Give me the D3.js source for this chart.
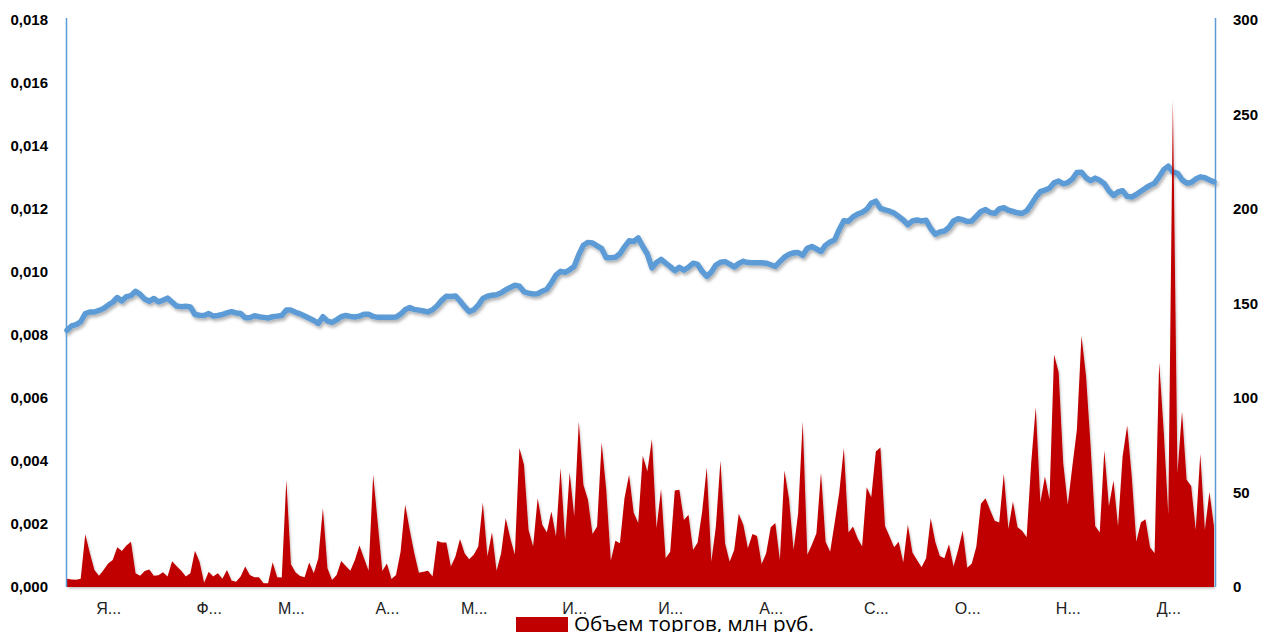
<!DOCTYPE html>
<html><head><meta charset="utf-8">
<script src="https://cdn.jsdelivr.net/npm/d3@7"></script>
<style>
html,body{margin:0;padding:0;background:#fff;overflow:hidden;}
svg{display:block;}
</style></head>
<body>
<svg id="chart" width="1261" height="632"></svg>
<script>
// ---- data ----
const months = ["Я...", "Ф...", "М...", "А...", "М...", "И...", "И...", "А...", "С...", "О...", "Н...", "Д..."];
const monthLabelIdx = [9, 31, 49, 70, 89, 111, 132, 154, 177, 197, 219, 241];
const leftTicks = [0, 0.002, 0.004, 0.006, 0.008, 0.010, 0.012, 0.014, 0.016, 0.018];
const rightTicks = [0, 50, 100, 150, 200, 250, 300];
const legendLabel = "Объем торгов, млн руб.";

const volume = [
4.4, 4.0, 3.9, 4.4, 27.9, 18, 9, 6, 9, 12.5,
14.3, 21, 19, 22, 24, 7.3, 6, 8.5, 9.2, 6,
6.2, 7.8, 5.5, 13.6, 11, 8.6, 5.5, 7.3, 19.2, 13.4,
2.3, 8.1, 5.5, 7.3, 4.4, 9, 3.4, 2.8, 5.5, 10.8,
6.4, 5.1, 5.1, 2, 2, 13.1, 5.1, 5, 56.7, 12,
7.8, 5.8, 5.1, 12.9, 7.3, 15.2, 41.7, 9.9, 3.7, 6.4,
13.8, 11.1, 8.6,
14.3, 21.9, 15.2, 8.6, 59.4, 33.8, 8.5, 12.5, 4.2, 6.4,
18.7, 43.5, 30.2, 17.9, 7.6, 8.1, 8.6, 5.5, 24.4, 23.5,
23.5, 10.8, 16.1, 25.4, 17.9, 14.7, 17, 21.4, 44.7, 16.1,
29, 8.6, 17.9, 36.4, 25.8, 17, 73.5, 64.7, 30.2, 21.4,
47, 32.9, 28.8, 39.9, 26.7, 62.9, 24.9, 60.6, 37.3, 87.6,
54.1, 46.1, 28.1, 32, 76.5, 51.4, 13.9, 24.5, 23.2, 47,
59.4, 39.4, 33.8, 69.4, 61.1, 78.3,
31.1, 51.8, 15.2, 18.7, 51, 51.4, 35.5, 38.2, 19.6, 23.5,
39.9, 63.4, 13.4, 32, 66.9, 23.2, 13.4, 19.6, 38.7, 32.9,
20.5, 28.1, 27, 12.2, 17.9, 31.6, 33.8, 14.3, 61.7, 46.5,
19.6, 39.1, 87.6, 17, 22.3, 28.5, 60.6, 24, 18.7, 34.1,
50, 73.5, 28.8, 32, 25.8, 21.4, 52.8, 47.5, 71.7, 73.8,
32.3, 26.7, 21, 24, 12.9, 32.9, 18.2, 14.3, 10.4, 15.2,
36.4, 24, 16.4, 15.2,
22.6, 10.8, 19.6, 29.8, 10.2, 12.5, 21.4, 44, 47, 40.8,
35.1, 34.1, 59.9, 30.7, 45.2, 31.6, 29.7, 26.3, 65.6, 95.2,
44.7, 58.5, 46.1, 123, 113.6, 65.6, 43.5, 63.8, 83.2, 133,
111.5, 74.4, 32.3, 28.8, 72.3, 42.6, 56.3, 32, 69.1, 85.4,
58.5, 24, 34.1, 35.9, 21, 17.9, 118.9, 82.3, 38.2, 258,
60.3, 92.9, 56.7, 53.5, 30.2, 70.5, 30.2, 50.2, 32
];

const price = [
0.00815, 0.00829, 0.00833, 0.00842, 0.00868, 0.00873, 0.00873, 0.00878, 0.00884, 0.00895,
0.00904, 0.00919, 0.00908, 0.00922, 0.00925, 0.00939, 0.00929, 0.00914, 0.00907, 0.00916,
0.00905, 0.00910, 0.00917, 0.00904, 0.00892, 0.00890, 0.00891, 0.00889, 0.00865, 0.00863,
0.00862, 0.00868, 0.00860, 0.00862, 0.00865, 0.00870, 0.00874, 0.00870, 0.00868, 0.00855,
0.00855, 0.00861, 0.00858, 0.00856, 0.00854, 0.00858, 0.00860, 0.00862, 0.00879, 0.00879,
0.00872, 0.00867, 0.00860, 0.00853, 0.00846, 0.00837, 0.00858, 0.00844, 0.00840, 0.00848,
0.00858, 0.00862, 0.00859, 0.00857, 0.00860, 0.00866, 0.00866, 0.00859, 0.00856, 0.00856,
0.00856, 0.00856, 0.00857, 0.00866, 0.00880, 0.00887, 0.00881, 0.00879, 0.00876, 0.00873,
0.00880, 0.00893, 0.00910, 0.00923, 0.00922, 0.00924, 0.00908, 0.00890, 0.00874, 0.00880,
0.00895, 0.00916, 0.00923, 0.00926, 0.00928, 0.00934, 0.00943, 0.00951, 0.00958, 0.00955,
0.00937, 0.00933, 0.00930, 0.00931, 0.00939, 0.00945, 0.00966, 0.00990, 0.01002, 0.00999,
0.01007, 0.01018, 0.01055, 0.01085, 0.01094, 0.01092, 0.01083, 0.01074, 0.01045, 0.01045,
0.01047, 0.01058, 0.01080, 0.01099, 0.01097, 0.01108, 0.01081, 0.01057, 0.01013, 0.01030,
0.01040, 0.01028, 0.01017, 0.01004, 0.01015, 0.01006, 0.01015, 0.01028, 0.01024, 0.01002,
0.00986, 0.01000, 0.01022, 0.01031, 0.01033, 0.01025, 0.01016, 0.01027, 0.01034, 0.01030,
0.01029, 0.01029, 0.01029, 0.01028, 0.01023, 0.01018, 0.01033, 0.01047, 0.01056, 0.01061,
0.01062, 0.01053, 0.01075, 0.01081, 0.01073, 0.01065, 0.01085, 0.01095, 0.01102, 0.01135,
0.01163, 0.01161, 0.01175, 0.01184, 0.01189, 0.01199, 0.01218, 0.01225, 0.01202, 0.01197,
0.01193, 0.01187, 0.01176, 0.01165, 0.01150, 0.01162, 0.01165, 0.01162, 0.01164, 0.01138,
0.01120, 0.01127, 0.01130, 0.01142, 0.01162, 0.01169, 0.01166, 0.01160, 0.01162, 0.01177,
0.01192, 0.01198, 0.01189, 0.01186, 0.01200, 0.01204, 0.01196, 0.01192, 0.01188, 0.01186,
0.01194, 0.01214, 0.01237, 0.01255, 0.01260, 0.01266, 0.01283, 0.01289, 0.01280, 0.01284,
0.01295, 0.01316, 0.01317, 0.01299, 0.01290, 0.01298, 0.01291, 0.01280, 0.01258, 0.01243,
0.01254, 0.01258, 0.01240, 0.01238, 0.01246, 0.01256, 0.01266, 0.01275, 0.01282, 0.01302,
0.01325, 0.01336, 0.01317, 0.01314, 0.01293, 0.01282, 0.01284, 0.01295, 0.01302, 0.01299,
0.01292, 0.01286
];

// ---- chart ----
const svg = d3.select("#chart");
const mLeft = 66, mRight = 1215, mTop = 20, mBottom = 587;

const idx = d3.range(volume.length);
const x = d3.scaleLinear().domain([0, volume.length - 1]).range([mLeft + 1, mRight - 1]);
const yL = d3.scaleLinear().domain([0, 0.018]).range([mBottom, mTop]);
const yR = d3.scaleLinear().domain([0, 300]).range([mBottom, mTop]);

const defs = svg.append("defs");
const f = defs.append("filter").attr("id", "shadow").attr("x", "-5%").attr("y", "-20%").attr("width", "110%").attr("height", "140%");
f.append("feDropShadow").attr("dx", 1.5).attr("dy", 2.5).attr("stdDeviation", 1.6).attr("flood-color", "#000").attr("flood-opacity", 0.3);
const f2 = defs.append("filter").attr("id", "shadow2").attr("x", "-5%").attr("y", "-20%").attr("width", "110%").attr("height", "140%");
f2.append("feDropShadow").attr("dx", 1).attr("dy", 1.5).attr("stdDeviation", 1.2).attr("flood-color", "#000").attr("flood-opacity", 0.25);

const loc = d3.formatLocale({decimal: ",", thousands: " ", grouping: [3], currency: ["", ""]});

// bottom axis line
svg.append("line").attr("x1", mLeft).attr("x2", mRight).attr("y1", mBottom + 0.5).attr("y2", mBottom + 0.5)
  .attr("stroke", "#bfbfbf").attr("stroke-width", 1.5).attr("filter", "url(#shadow2)");

// price line
const line = d3.line().x(i => x(i)).y(i => yL(price[i])).curve(d3.curveLinear);
svg.append("path").datum(idx).attr("d", line).attr("fill", "none")
  .attr("stroke", "#5B9BD5").attr("stroke-width", 5.5).attr("stroke-linejoin", "round").attr("stroke-linecap", "round")
  .attr("filter", "url(#shadow)");

// volume area
const area = d3.area().x(i => x(i)).y0(yR(0)).y1(i => yR(volume[i]));
svg.append("path").datum(idx).attr("d", area).attr("fill", "#C00000").attr("filter", "url(#shadow2)");

// left axis
const axL = svg.append("g").attr("transform", `translate(${mLeft},0)`)
  .call(d3.axisLeft(yL).tickValues(leftTicks).tickSize(0).tickPadding(18).tickFormat(loc.format(".3f")));
axL.select(".domain").remove();
svg.append("line").attr("x1", mLeft + 0.5).attr("x2", mLeft + 0.5).attr("y1", 18).attr("y2", mBottom).attr("stroke", "#5B9BD5").attr("stroke-width", 1.5);

// right axis
const axR = svg.append("g").attr("transform", `translate(${mRight},0)`)
  .call(d3.axisRight(yR).tickValues(rightTicks).tickSize(0).tickPadding(18).tickFormat(d3.format("d")));
axR.select(".domain").remove();
svg.append("line").attr("x1", mRight + 0.5).attr("x2", mRight + 0.5).attr("y1", 18).attr("y2", mBottom).attr("stroke", "#5B9BD5").attr("stroke-width", 1.5);

[axL, axR].forEach(a => a.selectAll("text")
  .attr("font-family", "Liberation Sans, Arial, sans-serif").attr("font-weight", "bold")
  .attr("font-size", 15).attr("fill", "#000"));

// month axis
const axB = svg.append("g").attr("transform", `translate(0,${mBottom})`)
  .call(d3.axisBottom(x).tickValues(monthLabelIdx).tickSize(0).tickPadding(16).tickFormat((d, i) => months[i]));
axB.select(".domain").remove();
axB.selectAll("text").attr("font-family", "Liberation Sans, Arial, sans-serif").attr("font-size", 16).attr("fill", "#222");

// legend
const lg = svg.append("g");
lg.append("rect").attr("x", 516).attr("y", 617).attr("width", 52).attr("height", 16).attr("fill", "#C00000");
lg.append("text").attr("x", 574).attr("y", 631).text(legendLabel)
  .attr("font-family", "Open Sans, Noto Sans, sans-serif").attr("font-size", 20.7).attr("fill", "#000");
</script>
</body></html>
